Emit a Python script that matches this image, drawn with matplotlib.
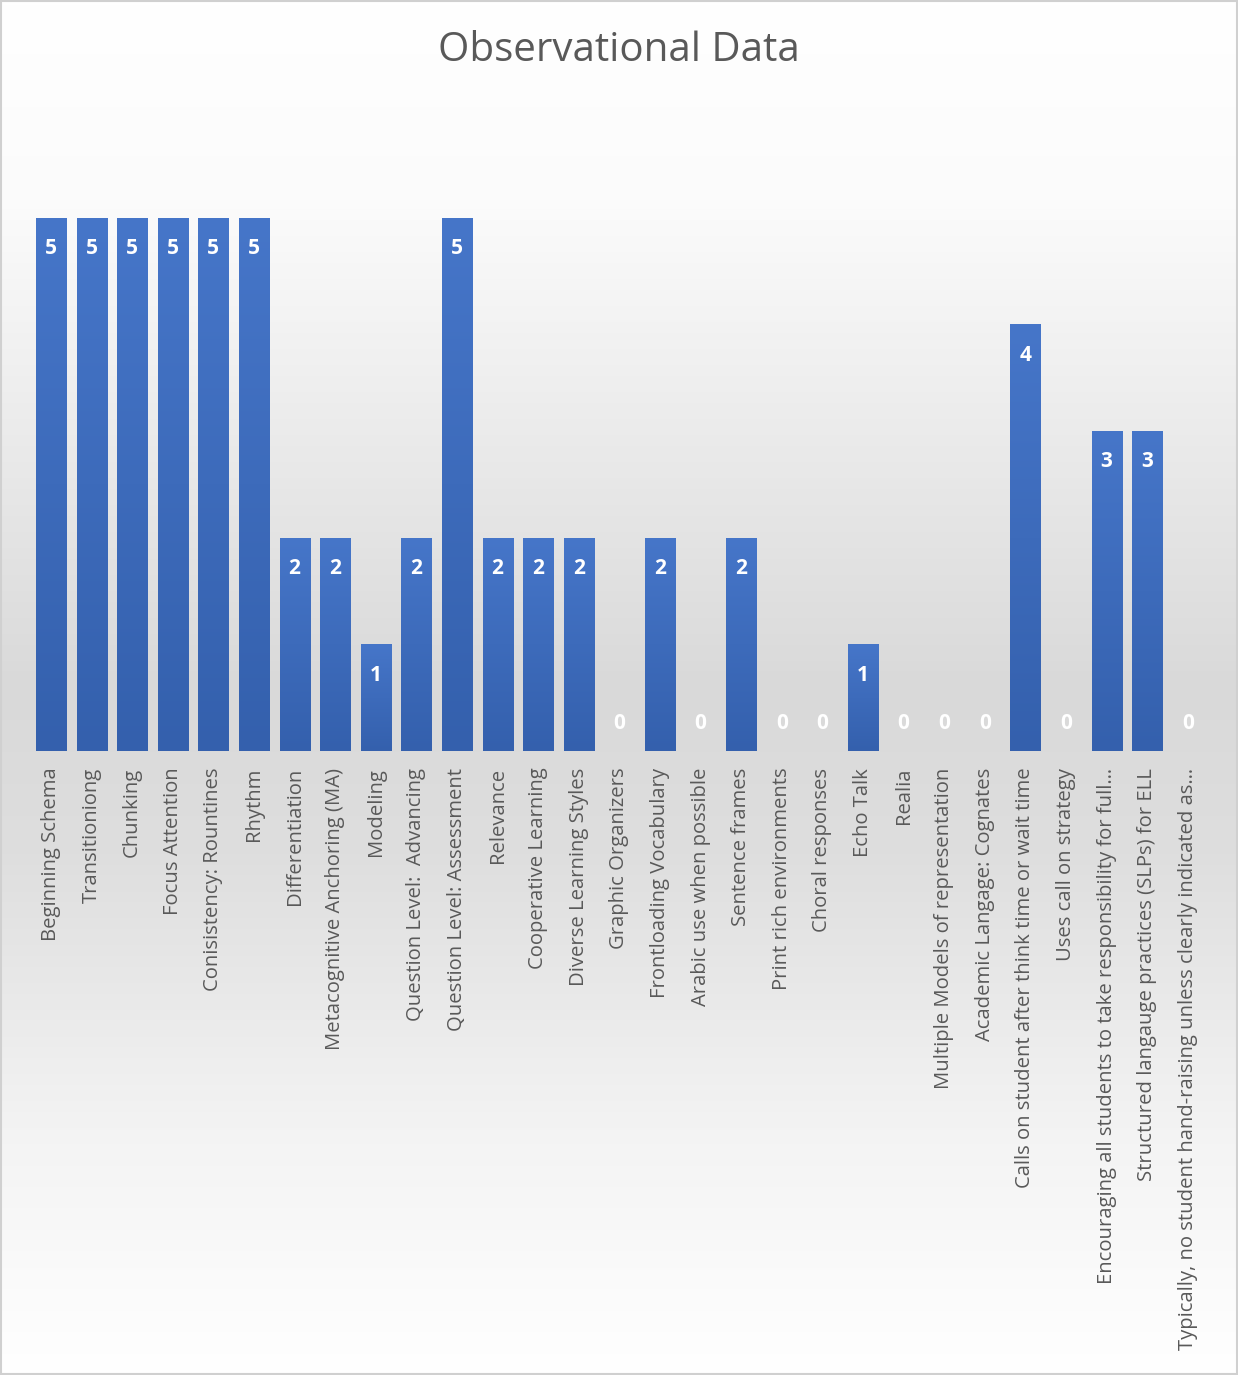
import numpy as np
import matplotlib.pyplot as plt
from matplotlib.colors import LinearSegmentedColormap

categories = [
    "Beginning Schema", "Transitioniong", "Chunking", "Focus Attention",
    "Conisistency: Rountines", "Rhythm", "Differentiation",
    "Metacognitive Anchoring (MA)", "Modeling", "Question Level:  Advancing",
    "Question Level: Assessment", "Relevance", "Cooperative Learning",
    "Diverse Learning Styles", "Graphic Organizers", "Frontloading Vocabulary",
    "Arabic use when possible", "Sentence frames", "Print rich environments",
    "Choral responses", "Echo Talk", "Realia",
    "Multiple Models of representation", "Academic Langage: Cognates",
    "Calls on student after think time or wait time", "Uses call on strategy",
    "Encouraging all students to take responsibility for full\u2026",
    "Structured langauge practices (SLPs) for ELL",
    "Typically, no student hand-raising unless clearly indicated as\u2026",
]
counts = [5, 5, 5, 5, 5, 5, 2, 2, 1, 2, 5, 2, 2, 2, 0, 2, 0, 2, 0, 0, 1, 0, 0, 0, 4, 0, 3, 3, 0]

plt.rcParams['font.family'] = ['Open Sans', 'DejaVu Sans']

fig = plt.figure(figsize=(12.38, 13.75), dpi=100)

# background gradient over the whole figure
bg = fig.add_axes([0, 0, 1, 1], zorder=0)
bg_cmap = LinearSegmentedColormap.from_list(
    'bg', [(0, '#ffffff'), (0.15, '#fbfbfb'), (0.5, '#d9d9d9'),
           (0.62, '#dedede'), (0.82, '#f3f3f3'), (1, '#ffffff')])
bg.imshow(np.linspace(0, 1, 256).reshape(-1, 1), aspect='auto', cmap=bg_cmap,
          extent=[0, 1, 0, 1])
bg.set_xlim(0, 1)
bg.set_ylim(0, 1)
bg.axis('off')
bg.add_patch(plt.Rectangle((0.0005, 0.0005), 0.999, 0.999, fill=False,
                           edgecolor='#d0d0d0', linewidth=1.5))

ax = fig.add_axes([0.0248, 0.4538, 0.951, 0.4655], zorder=1)
ax.patch.set_alpha(0)
x = np.arange(len(categories))
bars = ax.bar(x, counts, width=0.74, color='none', edgecolor='none')

bar_cmap = LinearSegmentedColormap.from_list('bar', ['#3460ad', '#4676c9'])
grad = np.linspace(0, 1, 256).reshape(-1, 1)
for rect, v in zip(bars, counts):
    if v == 0:
        continue
    x0 = rect.get_x()
    im = ax.imshow(grad, cmap=bar_cmap, aspect='auto', origin='lower',
                   extent=[x0, x0 + rect.get_width(), 0, v], zorder=2)
    im.set_clip_path(rect)

for xi, v in zip(x, counts):
    if v > 0:
        ax.text(xi, v - 0.29, str(v), ha='center', va='center', color='white',
                fontsize=15, fontweight='bold', zorder=3)
    else:
        ax.text(xi, 0.26, str(v), ha='center', va='center', color='white',
                fontsize=15, fontweight='bold', zorder=3)

ax.set_xlim(-0.5, len(categories) - 0.5)
ax.set_ylim(0, 6)
ax.set_xticks(x)
ax.set_xticklabels(categories, rotation=90, fontsize=14.6, color='#595959')
ax.tick_params(axis='x', length=0, pad=12)
ax.set_yticks([])
for s in ax.spines.values():
    s.set_visible(False)

fig.text(0.5, 0.963, "Observational Data", ha='center', va='center',
         fontsize=29, color='#595959')

fig.savefig('out.png', dpi=100)
